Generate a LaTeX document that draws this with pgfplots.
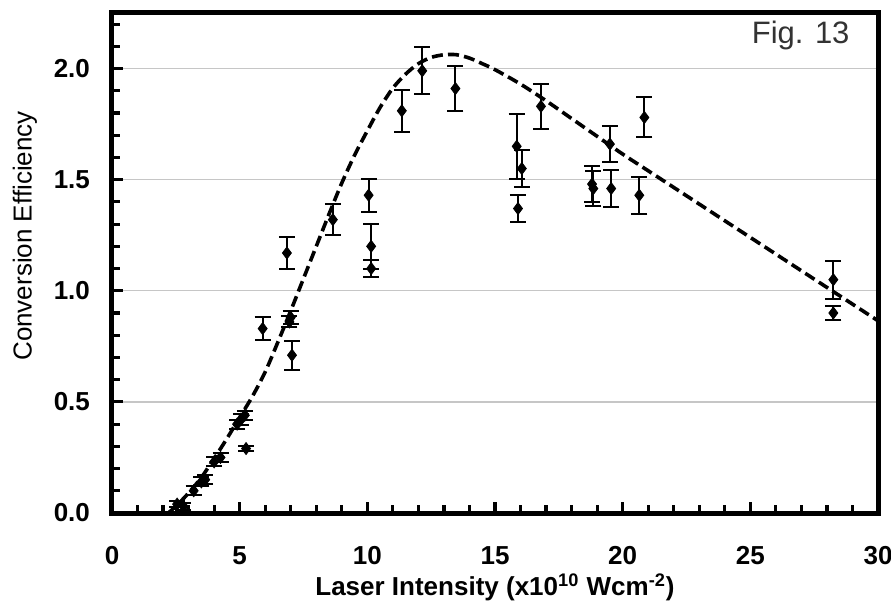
\documentclass[border=0pt]{standalone}
\usepackage{fontspec}
\setmainfont{Liberation Sans}
\usepackage{pgfplots}
\usepackage{pgfplotstable}
\pgfplotsset{compat=1.18}

% measured points: intensity, efficiency, error
\pgfplotstableread{
x     y     ey
2.55  0.04  0.015
2.80  0.03  0.015
3.20  0.10  0.020
3.50  0.14  0.020
3.65  0.15  0.020
4.00  0.23  0.020
4.25  0.25  0.020
4.90  0.40  0.020
5.05  0.42  0.025
5.20  0.44  0.020
5.25  0.29  0.012
5.90  0.83  0.050
6.85  1.17  0.070
7.00  0.88  0.030
6.95  0.86  0.025
7.05  0.71  0.065
8.65  1.32  0.070
10.05 1.43  0.075
10.15 1.20  0.100
10.15 1.10  0.040
11.35 1.81  0.095
12.15 1.99  0.105
13.45 1.91  0.100
15.85 1.65  0.145
16.05 1.55  0.085
15.90 1.37  0.060
16.80 1.83  0.100
18.80 1.48  0.080
18.85 1.46  0.080
19.55 1.46  0.083
19.50 1.66  0.080
20.65 1.43  0.083
20.85 1.78  0.090
28.25 1.05  0.085
28.25 0.90  0.030
}\measured

% model curve
\pgfplotstableread{
x    y
2.2  0.00
2.5  0.03
3.0  0.09
3.5  0.16
4.0  0.245
4.5  0.335
5.0  0.43
5.5  0.525
6.0  0.635
6.5  0.77
7.0  0.91
7.5  1.055
8.0  1.20
8.5  1.345
9.0  1.485
9.5  1.61
10.0 1.72
10.5 1.825
11.0 1.912
11.5 1.975
12.0 2.022
12.5 2.05
13.0 2.062
13.5 2.062
14.0 2.047
14.5 2.022
15.0 1.995
16.0 1.93
17.0 1.855
18.0 1.775
19.0 1.695
20.0 1.615
21.0 1.54
22.0 1.465
23.0 1.39
24.0 1.315
25.0 1.24
26.0 1.165
27.0 1.09
28.0 1.015
29.0 0.94
30.0 0.865
}\model

\begin{document}
\begin{tikzpicture}
\begin{axis}[
    scale only axis,
    width=383pt, height=250pt,
    xmin=0, xmax=30, ymin=0, ymax=2.25,
    xtick={0,5,...,30},
    ytick={0,0.5,1.0,1.5,2.0},
    minor x tick num=4,
    minor ytick={0.1,0.2,0.3,0.4,0.6,0.7,0.8,0.9,1.1,1.2,1.3,1.4,1.6,1.7,1.8,1.9,2.1,2.2},
    tick align=inside,
    xtick pos=bottom, ytick pos=left,
    major tick length=5.5pt, minor tick length=4pt,
    tick style={black, line width=1.6pt},
    axis line style={line width=2.5pt},
    ymajorgrids,
    major grid style={gray!45, line width=0.7pt},
    /pgf/number format/assume math mode=true,
    tick label style={font=\bfseries\fontsize{13}{15}\selectfont},
    yticklabel style={/pgf/number format/.cd, fixed, fixed zerofill, precision=1, /tikz/.cd, xshift=-7.5pt},
    xticklabel style={anchor=center, yshift=-21.5pt},
    xlabel={Laser Intensity (x10\textsuperscript{10} Wcm\textsuperscript{-2})},
    xlabel style={font=\bfseries\fontsize{13}{15}\selectfont, at={(axis description cs:0.5,0)}, anchor=center, yshift=-37pt},
    ylabel={Conversion Efficiency},
    ylabel style={font=\fontsize{13}{15}\selectfont, at={(axis description cs:0,0.554)}, anchor=center, yshift=43.5pt},
]
\addplot[smooth, no marks, black, line width=1.8pt, dash pattern=on 5.5pt off 2.6pt] table[x=x, y=y] {\model};
\addplot[only marks, black, mark=diamond*, mark size=3pt,
    error bars/.cd, y dir=both, y explicit,
    error bar style={black, line width=1pt},
    error mark options={rotate=90, mark size=4pt, line width=1pt}]
    table[x=x, y=y, y error=ey] {\measured};
\node[anchor=east, font=\fontsize{15.5}{17}\selectfont, text=black!80] at (rel axis cs:0.972,0.956) {Fig. 13};
\coordinate (sw) at (rel axis cs:0,0);
\coordinate (ne) at (rel axis cs:1,1);
\end{axis}
\pgfresetboundingbox
\path[use as bounding box] ([shift={(-56pt,-46pt)}]sw) rectangle ([shift={(6.5pt,6.5pt)}]ne);
\end{tikzpicture}
\end{document}
